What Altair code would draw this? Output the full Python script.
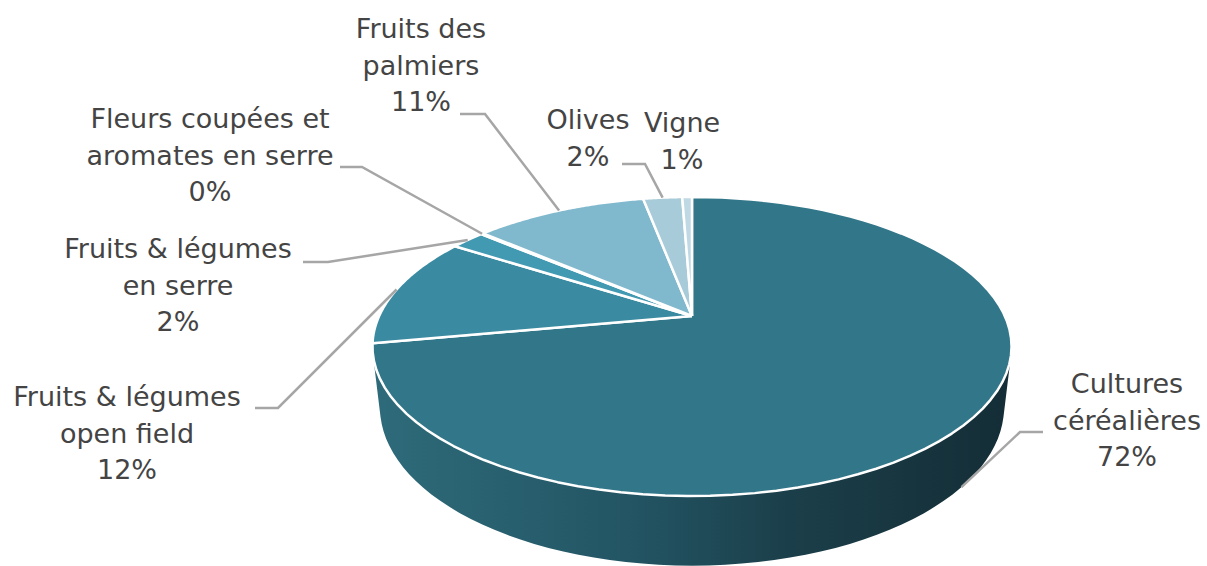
import math
import pandas as pd
import altair as alt

# ---- data ----
CATEGORIES = ["Cultures céréalières", "Fruits & légumes open field", "Fruits & légumes en serre",
              "Fleurs coupées et aromates en serre", "Fruits des palmiers", "Olives", "Vigne"]
VALUES = [72.0, 12.0, 2.1, 0.15, 10.65, 2.4, 0.6]
COLORS = ["#317689", "#3a8ba1", "#4299b2", "#5aa9c0", "#80b9cd", "#a8cbd9", "#bfd9e4"]

# ---- label layout (annotation placement) ----
LABEL_TEXT = ["Cultures\ncéréalières", "Fruits & légumes\nopen field", "Fruits & légumes\nen serre",
              "Fleurs coupées et\naromates en serre", "Fruits des\npalmiers", "Olives", "Vigne"]
LABEL_X = [1127, 127, 178, 210, 421, 588, 682]
LABEL_Y = [385, 398, 250, 120, 30, 121, 124]
HAS_LEADER = [True, True, True, True, True, True, False]
LEADER_X0 = [1043, 255, 303, 340, 460, 622, 0]
LEADER_X1 = [1020, 278, 328, 362, 485, 645, 0]
LEADER_Y = [432, 408, 262, 167, 114, 164, 0]
LEADER_ON_SIDE = [1, 0, 0, 0, 0, 0, 0]

# ---- 3D view geometry ----
W, H_PX = 1207, 566
CX, CY = 692, 316
F = 1363.0
D = 4.357
CP, SP = 0.8889, 0.4581
DEPTH = 0.22
TH_A = math.acos(-1.0 / (D * CP))
TH_B = 2 * math.pi - TH_A

df = pd.DataFrame({
    "category": CATEGORIES, "value": VALUES, "idx": list(range(len(CATEGORIES))),
    "wrap": LABEL_TEXT, "lx": LABEL_X, "ly": LABEL_Y, "leader": HAS_LEADER,
    "lx0": LEADER_X0, "lx1": LEADER_X1, "lyl": LEADER_Y, "on_side": LEADER_ON_SIDE,
})

xs = alt.Scale(domain=[0, W], nice=False, zero=False)
ys = alt.Scale(domain=[0, H_PX], nice=False, zero=False, reverse=True)


def proj(X, Y, Z):
    depth = f"({D} + ({Y})*{CP} - ({Z})*{SP})"
    px = f"{CX} + {F}*({X})/{depth}"
    py = f"{CY} - {F}*(({Y})*{SP} + ({Z})*{CP})/{depth}"
    return px, py


base = (alt.Chart(df)
        .transform_joinaggregate(total="sum(value)")
        .transform_window(cum="sum(value)", sort=[alt.SortField("idx")], frame=[None, 0])
        .transform_calculate(t0="2*PI*(datum.cum - datum.value)/datum.total")
        .transform_calculate(t1="2*PI*datum.cum/datum.total"))

# side of the cylinder (front visible part)
spx, spy = proj("datum.X", "datum.Y", "datum.Z")
side = (alt.Chart(alt.sequence(0, 122, as_="i"))
        .transform_calculate(top="datum.i <= 60")
        .transform_calculate(t="datum.top ? datum.i/60 : (121 - datum.i)/60")
        .transform_calculate(th=f"{TH_A} + ({TH_B} - {TH_A})*datum.t")
        .transform_calculate(X="sin(datum.th)")
        .transform_calculate(Y="cos(datum.th)")
        .transform_calculate(Z=f"datum.top ? 0 : -{DEPTH}")
        .transform_calculate(px=spx)
        .transform_calculate(py=spy)
        .mark_line(
            fill=alt.LinearGradient(
                gradient="linear", x1=0, x2=1, y1=0, y2=0,
                stops=[alt.GradientStop(offset=0, color="#2e6b7a"),
                       alt.GradientStop(offset=0.4, color="#235564"),
                       alt.GradientStop(offset=0.65, color="#1b3f4a"),
                       alt.GradientStop(offset=1, color="#142d36")]),
            strokeWidth=0)
        .encode(x=alt.X("px:Q", scale=xs, axis=None),
                y=alt.Y("py:Q", scale=ys, axis=None),
                order="i:Q"))

# top face slices
tpx, tpy = proj("datum.X", "datum.Y", "0")
slices = (base
          .transform_calculate(pts="sequence(0, 82)")
          .transform_flatten(["pts"], as_=["i"])
          .transform_calculate(apex="datum.i == 0 || datum.i == 81")
          .transform_calculate(th="datum.t0 + (datum.t1 - datum.t0)*(datum.i - 1)/79")
          .transform_calculate(X="datum.apex ? 0 : sin(datum.th)")
          .transform_calculate(Y="datum.apex ? 0 : cos(datum.th)")
          .transform_calculate(px=tpx)
          .transform_calculate(py=tpy)
          .mark_line(stroke="white", strokeWidth=2.5, strokeJoin="round")
          .encode(x=alt.X("px:Q", scale=xs, axis=None),
                  y=alt.Y("py:Q", scale=ys, axis=None),
                  fill=alt.Fill("category:N", scale=alt.Scale(domain=CATEGORIES, range=COLORS), legend=None),
                  detail="category:N",
                  order="i:Q"))

# leader lines
apx, apy = proj("sin(datum.mid)", "cos(datum.mid)", f"(datum.on_side ? -{DEPTH} : 0)")
leaders = (base
           .transform_filter("datum.leader")
           .transform_calculate(mid="(datum.t0 + datum.t1)/2")
           .transform_calculate(ax=apx)
           .transform_calculate(ay=apy)
           .transform_calculate(pts="sequence(0, 3)")
           .transform_flatten(["pts"], as_=["j"])
           .transform_calculate(qx="datum.j == 0 ? datum.lx0 : (datum.j == 1 ? datum.lx1 : datum.ax)")
           .transform_calculate(qy="datum.j < 2 ? datum.lyl : datum.ay")
           .mark_line(stroke="#a6a6a6", strokeWidth=2.5)
           .encode(x=alt.X("qx:Q", scale=xs, axis=None),
                   y=alt.Y("qy:Q", scale=ys, axis=None),
                   detail="category:N",
                   order="j:Q"))

labels = (base
          .transform_calculate(txt='datum.wrap + "\\n" + format(100*datum.value/datum.total, ".0f") + "%"')
          .mark_text(font="DejaVu Sans", fontSize=27, lineHeight=36.5, lineBreak="\n",
                     color="#444444", align="center", baseline="middle")
          .encode(x=alt.X("lx:Q", scale=xs, axis=None),
                  y=alt.Y("ly:Q", scale=ys, axis=None),
                  text="txt:N"))

chart = (alt.layer(side, slices, leaders, labels)
         .properties(width=W, height=H_PX, padding=0, autosize="none", background="white")
         .configure_view(stroke=None))

chart.save("out.html", embed_options={"renderer": "svg", "actions": False})
